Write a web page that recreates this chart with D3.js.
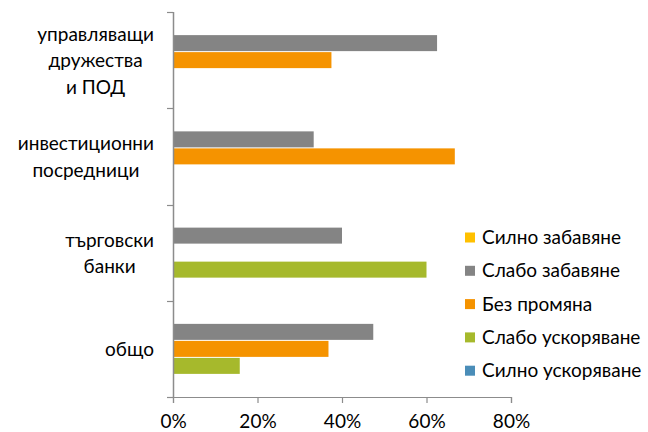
<!DOCTYPE html>
<html>
<head>
<meta charset="utf-8">
<script src="https://cdn.jsdelivr.net/npm/d3@7"></script>
<style>
  body { margin: 0; background: #fff; }
  text { font-family: Lato, "Open Sans", sans-serif; fill: #000; }
</style>
</head>
<body>
<script>
var width = 648,
    height = 432;

// data
var categories = ["управляващи\nдружества\nи ПОД", "инвестиционни\nпосредници", "търговски\nбанки", "общо"];
var seriesNames = ["Силно забавяне", "Слабо забавяне", "Без промяна", "Слабо ускоряване", "Силно ускоряване"];
var strongSlow = [0, 0, 0, 0];
var weakSlow = [0.625, 0.333, 0.40, 0.474];
var noChange = [0.375, 0.667, 0, 0.368];
var weakFast = [0, 0, 0.60, 0.158];
var strongFast = [0, 0, 0, 0];
var xTicks = [0, 0.2, 0.4, 0.6, 0.8];
var colors = ["#ffc000", "#848484", "#f59300", "#a6b92c", "#4a8db8"];

var seriesValues = [strongSlow, weakSlow, noChange, weakFast, strongFast];

var margin = {top: 12, right: 137, bottom: 35, left: 173};
var fontSize = "19px";

var x = d3.scaleLinear()
    .domain([0, 0.8])
    .range([margin.left, width - margin.right]);

var y = d3.scaleBand()
    .domain(categories)
    .range([margin.top, height - margin.bottom]);

var ySub = d3.scaleBand()
    .domain(seriesNames)
    .range([0, y.bandwidth()])
    .paddingOuter(0.33);

var svg = d3.select("body").append("svg")
    .attr("width", width)
    .attr("height", height);

// bars
seriesNames.forEach(function(name, si) {
  var rows = categories.map(function(c, ci) { return {cat: c, v: seriesValues[si][ci]}; })
      .filter(function(d) { return d.v > 0; });
  svg.append("g")
    .selectAll("rect")
    .data(rows)
    .enter().append("rect")
      .attr("x", x(0) + 1)
      .attr("y", function(d) { return y(d.cat) + ySub(name) + 0.5; })
      .attr("width", function(d) { return x(d.v) - x(0) - 1; })
      .attr("height", ySub.bandwidth() - 1)
      .style("fill", colors[si]);
});

// y axis line with ticks between categories
var axisColor = "#8c8c8c";
svg.append("line")
    .attr("x1", x(0) + 0.5).attr("x2", x(0) + 0.5)
    .attr("y1", margin.top).attr("y2", height - margin.bottom)
    .style("stroke", axisColor).style("stroke-width", 1.5);

var bounds = categories.map(function(c) { return y(c); }).concat([y.range()[1]]);
svg.selectAll(".ytick")
    .data(bounds)
    .enter().append("line")
      .attr("x1", x(0) - 6).attr("x2", x(0))
      .attr("y1", function(d) { return Math.round(d) + 0.5; })
      .attr("y2", function(d) { return Math.round(d) + 0.5; })
      .style("stroke", axisColor).style("stroke-width", 1.2);

// x axis
var xAxis = svg.append("g")
    .attr("transform", "translate(0," + (height - margin.bottom) + ")")
    .call(d3.axisBottom(x).tickValues(xTicks).tickSize(6).tickFormat(d3.format(".0%")));
xAxis.select(".domain").style("stroke", axisColor).style("stroke-width", 1.2);
xAxis.selectAll(".tick line").style("stroke", axisColor).style("stroke-width", 1.2);
xAxis.selectAll(".tick text")
    .attr("y", 18)
    .style("font-size", fontSize)
    .style("font-family", "Lato, sans-serif")
    .style("fill", "#000");

// category labels: block right aligned, lines centred in the block
var lineH = 26.5;
categories.forEach(function(c) {
  var lines = c.split("\n");
  var g = svg.append("g");
  var texts = g.selectAll("text")
    .data(lines)
    .enter().append("text")
      .attr("text-anchor", "middle")
      .attr("dy", "0.35em")
      .style("font-size", fontSize)
      .attr("y", function(d, i) { return y(c) + y.bandwidth() / 2 + 0.5 + (i - (lines.length - 1) / 2) * lineH; })
      .text(function(d) { return d; });
  var maxW = d3.max(texts.nodes(), function(n) { return n.getComputedTextLength(); });
  texts.attr("x", 154 - maxW / 2);
});

// legend
var legend = svg.append("g")
    .attr("transform", "translate(465,237.5)");
var items = legend.selectAll("g")
    .data(seriesNames)
    .enter().append("g")
      .attr("transform", function(d, i) { return "translate(0," + (i * 33.3) + ")"; });
items.append("rect")
    .attr("x", 0).attr("y", -5)
    .attr("width", 10).attr("height", 10)
    .style("fill", function(d, i) { return colors[i]; });
items.append("text")
    .attr("x", 17)
    .attr("dy", "0.35em")
    .style("font-size", fontSize)
    .text(function(d) { return d; });
</script>
</body>
</html>
